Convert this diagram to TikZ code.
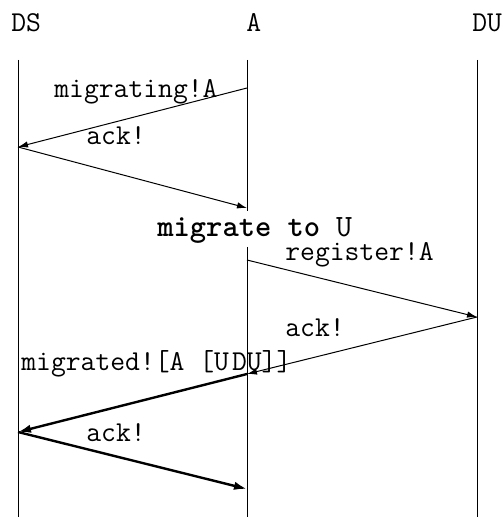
\documentclass[tikz,border=0pt]{standalone}
\usetikzlibrary{arrows.meta}
\begin{document}
\begin{tikzpicture}[x=0.5pt,y=-0.5pt,
  lifeline/.style={line width=0.5pt},
  msg/.style={line width=0.5pt,-{Latex[length=5pt,width=3.2pt]}},
  bigmsg/.style={line width=1.2pt,-{Latex[length=6.5pt,width=4.2pt]}},
  txt/.style={anchor=base west,inner sep=0pt,font=\fontsize{14.4}{17}\selectfont\ttfamily},
  event/.style={anchor=base west,inner sep=0pt,font=\fontsize{15.5}{18}\selectfont\ttfamily}]
\useasboundingbox (0,0) rectangle (503,517);

% process names
\node[txt] (hDS) at (11,32) {DS};
\node[txt] (hA) at (246,32) {A};
\node[txt] (hDU) at (472,32) {DU};

% lifelines
\coordinate (dsTop) at (18,60);   \coordinate (dsBot) at (18,517);
\coordinate (aTop) at (247,60);   \coordinate (aGap1) at (247,211);
\coordinate (aGap2) at (247,247); \coordinate (aBot) at (247,517);
\coordinate (duTop) at (477,60);  \coordinate (duBot) at (477,517);
\draw[lifeline] (dsTop) -- (dsBot);
\draw[lifeline] (aTop) -- (aGap1);
\draw[lifeline] (aGap2) -- (aBot);
\draw[lifeline] (duTop) -- (duBot);

% message end points
\coordinate (a1) at (247,88);
\coordinate (ds1) at (18,147);
\coordinate (a2) at (247,208);
\coordinate (a3) at (247,260);
\coordinate (du1) at (477,317);
\coordinate (a4) at (247,374);
\coordinate (ds2) at (18,432);
\coordinate (a5) at (247,489);

% messages
\draw[msg] (a1) -- (ds1);
\draw[msg] (ds1) -- (a2);
\draw[msg] (a3) -- (du1);
\draw[msg] (du1) -- (a4);
\draw[bigmsg] (a4) -- (ds2);
\draw[bigmsg] (ds2) -- (a5);

% labels
\node[txt] (l1) at (54,98) {migrating!A};
\node[txt] (l2) at (86,145) {ack!};
\node[event] (ev) at (157,237) {\textbf{migrate to} U};
\node[txt] (l3) at (285,261) {register!A};
\node[txt] (l4) at (285,336) {ack!};
\node[txt] (l5) at (21,370) {migrated![A [U\kern1.5pt DU]]};
\node[txt] (l6) at (86,441) {ack!};
\end{tikzpicture}
\end{document}
